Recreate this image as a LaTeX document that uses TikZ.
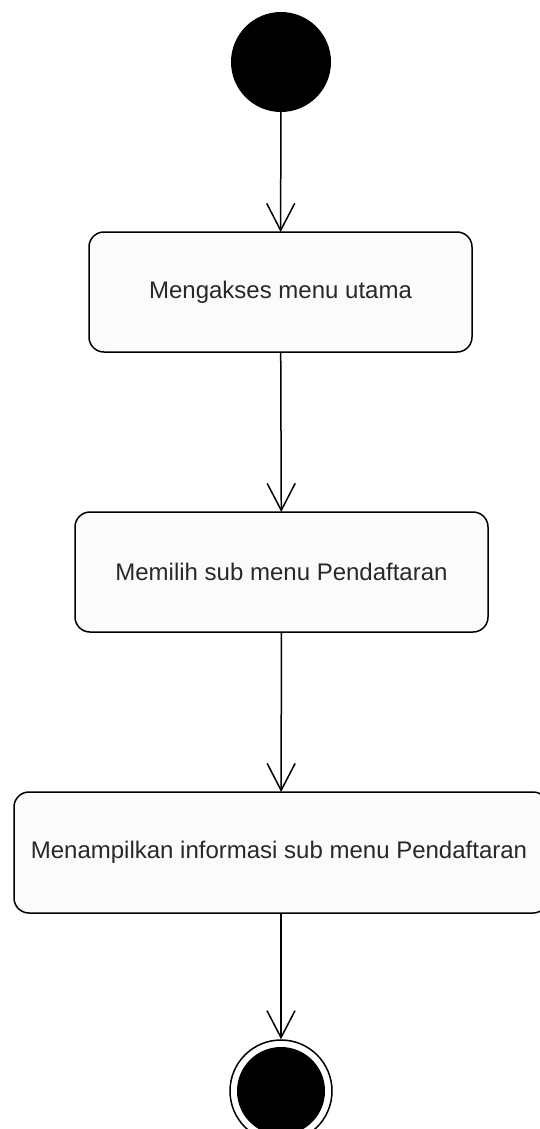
\documentclass[tikz,border=0pt]{standalone}
\usepackage{fontspec}
\setmainfont{Liberation Sans}
\usetikzlibrary{arrows.meta}
\newlength{\mylinewidth}
\setlength{\mylinewidth}{1.5pt}
\definecolor{boxfill}{RGB}{251,251,251}
\definecolor{txtgray}{RGB}{40,40,40}

\begin{document}
\begin{tikzpicture}[x=1pt,y=-1pt,
        actbox/.style={
            rectangle,draw,
            rounded corners=15pt,
            line width=\mylinewidth,
            fill=boxfill,
            minimum height=120pt,
            inner sep=0pt,outer sep=0pt,
            font=\fontsize{24}{28}\selectfont,
            text=txtgray,
            },
        flow/.style={
            line width=\mylinewidth,
            -{Straight Barb[length=27pt,width=28pt]},
            },
        ]
        \useasboundingbox (0,0) rectangle (539,1129);
        \node[circle,fill=black,minimum size=100pt,inner sep=0pt] (start) at (281,62) {};
        \node[actbox,minimum width=383pt] (akses) at (280.5,292) {Mengakses menu utama};
        \node[actbox,minimum width=413pt] (pilih) at (281.5,572) {Memilih sub menu Pendaftaran};
        \node[actbox,minimum width=534pt,minimum height=121pt] (tampil) at (281,852.5) {};
        \node[font=\fontsize{24}{28}\selectfont,text=txtgray] (tampiltxt) at (279,852.5) {Menampilkan informasi sub menu Pendaftaran};
        \node[circle,draw,line width=\mylinewidth,minimum size=102pt,inner sep=0pt] (fin) at (281,1091) {};
        \node[circle,fill=black,minimum size=88pt,inner sep=0pt] (fininner) at (fin) {};
        % transitions
        \draw[flow] (start) -- (akses);
        \draw[flow] (akses) -- (pilih);
        \draw[flow] (pilih) -- (tampil);
        \draw[flow] (tampil) -- (fin);
    \end{tikzpicture}
\end{document}
